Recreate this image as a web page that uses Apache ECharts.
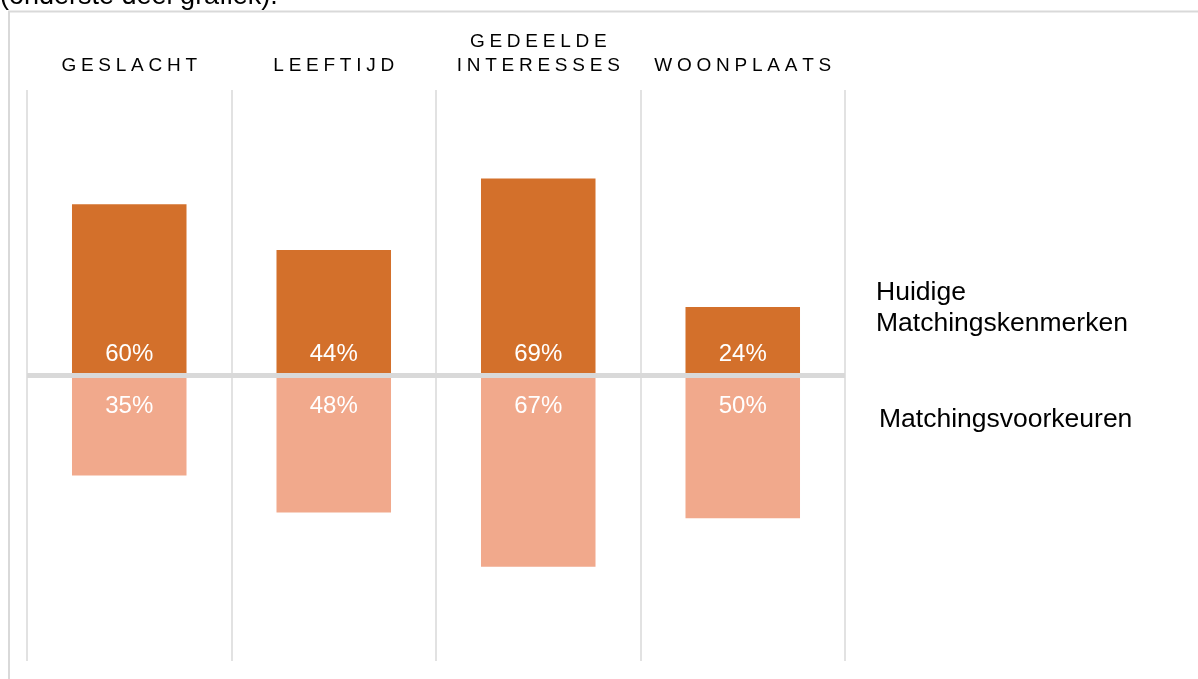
<!DOCTYPE html>
<html>
<head>
<meta charset="utf-8">
<style>
  html, body { margin: 0; padding: 0; background: #fff; }
  #chart { width: 1198px; height: 679px; }
</style>
<script src="https://cdn.jsdelivr.net/npm/echarts@6/dist/echarts.min.js"></script>
</head>
<body>
<div id="chart"></div>
<script>
// data
var categories = ['GESLACHT', 'LEEFTIJD', 'GEDEELDE INTERESSES', 'WOONPLAATS'];
var huidigeKenmerken = [60, 44, 69, 24];
var matchingsVoorkeuren = [35, 48, 67, 50];
var seriesNames = ['Huidige Matchingskenmerken', 'Matchingsvoorkeuren'];

var FONT = '"Liberation Sans", Arial, sans-serif';

// spread letters like the original (letter-spacing), one word per line
function spaced(name) {
  return name.split(' ').map(function (w) {
    return w.split('').join('\u2005');
  }).join('\n');
}

function pct(p) {
  return Math.abs(p.value) + '%';
}

var myChart = echarts.init(document.getElementById('chart'));

var option = {
  animation: false,
  backgroundColor: '#fff',
  grid: { left: 27, right: 353, top: 90, bottom: 18 },
  xAxis: {
    type: 'category',
    position: 'top',
    data: categories,
    axisLine: { show: false, onZero: false },
    axisTick: { show: false },
    axisLabel: {
      interval: 0,
      margin: 12,
      color: '#000',
      fontFamily: FONT,
      fontSize: 19,
      lineHeight: 24,
      formatter: spaced
    },
    splitLine: { show: true, interval: 0, lineStyle: { color: '#d9d9d9', width: 1.5 } }
  },
  yAxis: {
    type: 'value',
    min: -100,
    max: 100,
    show: false,
    splitLine: { show: false }
  },
  series: [
    {
      name: seriesNames[0],
      type: 'bar',
      barWidth: '56%',
      barGap: '-100%',
      data: huidigeKenmerken,
      itemStyle: { color: '#D3702B' },
      label: {
        show: true,
        position: 'insideBottom',
        distance: 9,
        color: '#fff',
        fontFamily: FONT,
        fontSize: 24,
        formatter: pct
      },
      markLine: {
        silent: true,
        symbol: ['none', 'none'],
        label: { show: false },
        lineStyle: { color: '#d9d9d9', width: 5, type: 'solid' },
        data: [{ yAxis: 0 }]
      }
    },
    {
      name: seriesNames[1],
      type: 'bar',
      barWidth: '56%',
      data: matchingsVoorkeuren.map(function (v) { return -v; }),
      itemStyle: { color: '#F1A98C' },
      label: {
        show: true,
        position: 'insideTop',
        distance: 19,
        color: '#fff',
        fontFamily: FONT,
        fontSize: 24,
        formatter: pct
      }
    }
  ],
  graphic: [
    {
      type: 'polyline',
      silent: true,
      shape: { points: [[9, 679], [9, 11.5], [1198, 11.5]] },
      style: { stroke: '#d9d9d9', lineWidth: 2, fill: null }
    },
    {
      type: 'text',
      x: 0,
      y: -3.5,
      style: { text: '(onderste deel grafiek).', fill: '#000', font: '27px ' + FONT, verticalAlign: 'middle' }
    },
    {
      type: 'text',
      x: 876,
      y: 277.5,
      style: { text: 'Huidige\nMatchingskenmerken', fill: '#000', font: '26.5px ' + FONT, lineHeight: 31 }
    },
    {
      type: 'text',
      x: 879,
      y: 404.5,
      style: { text: 'Matchingsvoorkeuren', fill: '#000', font: '26.5px ' + FONT, lineHeight: 31 }
    }
  ]
};

myChart.setOption(option);
window.addEventListener('resize', function () { myChart.resize(); });
</script>
</body>
</html>
